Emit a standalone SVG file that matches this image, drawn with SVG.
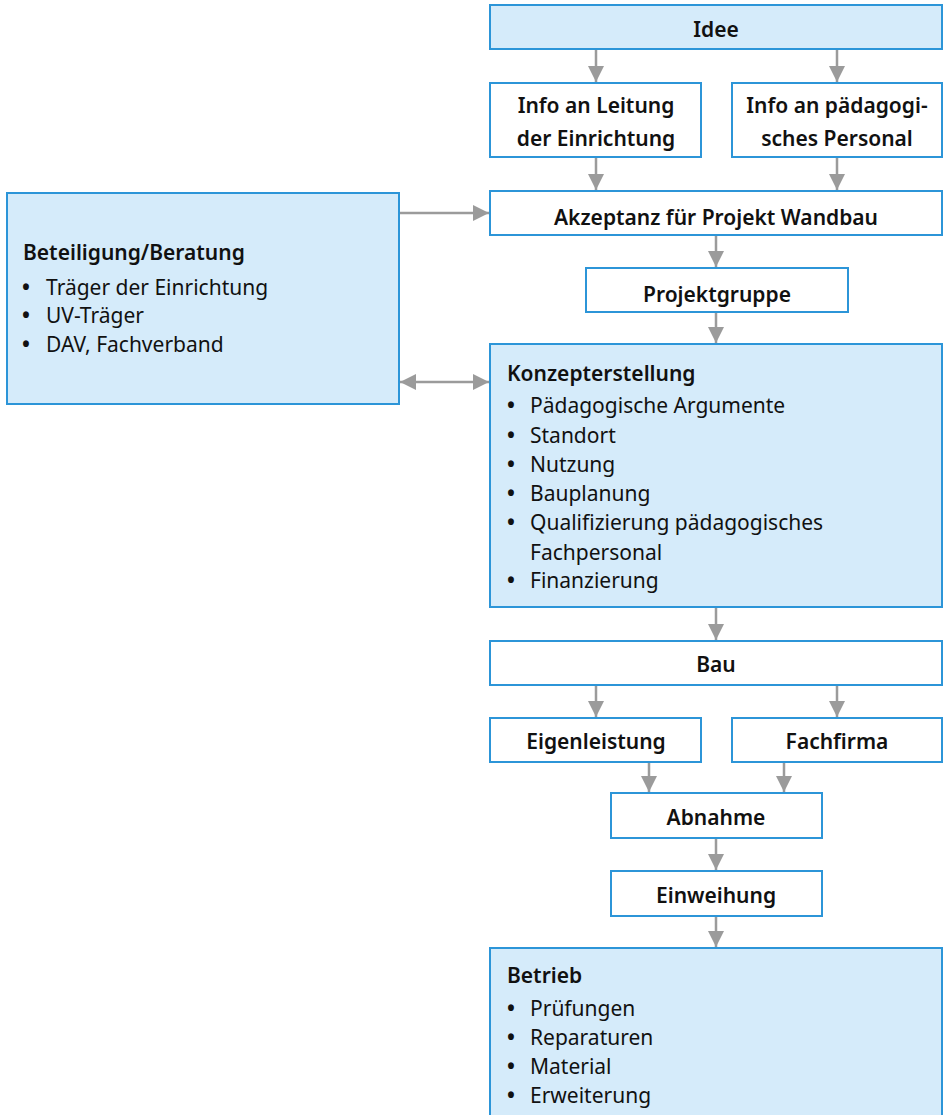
<svg xmlns="http://www.w3.org/2000/svg" width="945" height="1115" viewBox="0 0 945 1115">
<defs>
<marker id="ah" viewBox="0 0 16 16" refX="16" refY="8" markerWidth="16" markerHeight="16" markerUnits="userSpaceOnUse" orient="auto-start-reverse">
<path d="M0,0 L16,8 L0,16 Z" fill="#9b9b9b"/>
</marker>
<style>
.box{fill:#fff;stroke:#2c95d8;stroke-width:2}
.fbox{fill:#d5ebfa;stroke:#2c95d8;stroke-width:2}
.t{font-family:"Noto Sans","Open Sans",sans-serif;font-size:21px;font-weight:600;fill:#111}
.tc{text-anchor:middle}
.r{font-family:"Noto Sans","Open Sans",sans-serif;font-size:21px;font-weight:400;fill:#111}
.b{font-weight:700}
.c{stroke:#9b9b9b;stroke-width:2.5;fill:none;marker-end:url(#ah)}
</style>
</defs>
<g id="connectors">
<line class="c" x1="596" y1="49" x2="596" y2="82"/>
<line class="c" x1="837" y1="49" x2="837" y2="82"/>
<line class="c" x1="596" y1="157" x2="596" y2="190"/>
<line class="c" x1="837" y1="157" x2="837" y2="190"/>
<line class="c" x1="399" y1="213" x2="489" y2="213"/>
<line class="c" x1="716" y1="235" x2="716" y2="267"/>
<line class="c" x1="716" y1="312" x2="716" y2="343"/>
<line class="c" x1="400" y1="382" x2="489" y2="382" marker-start="url(#ah)"/>
<line class="c" x1="716" y1="607" x2="716" y2="640"/>
<line class="c" x1="596" y1="685" x2="596" y2="717"/>
<line class="c" x1="837" y1="685" x2="837" y2="717"/>
<line class="c" x1="649" y1="762" x2="649" y2="792"/>
<line class="c" x1="784" y1="762" x2="784" y2="792"/>
<line class="c" x1="716" y1="838" x2="716" y2="870"/>
<line class="c" x1="716" y1="916" x2="716" y2="947"/>
</g>
<g id="idee"><rect class="fbox" x="490" y="5" width="452" height="44"/><text class="t tc" x="716" y="37">Idee</text></g>
<g id="info-leitung"><rect class="box" x="490" y="83" width="211" height="74"/><text class="t tc" x="596" y="113">Info an Leitung</text><text class="t tc" x="596" y="146">der Einrichtung</text></g>
<g id="info-personal"><rect class="box" x="732" y="83" width="210" height="74"/><text class="t tc" x="837" y="113">Info an pädagogi-</text><text class="t tc" x="837" y="146">sches Personal</text></g>
<g id="akzeptanz"><rect class="box" x="490" y="191" width="452" height="44"/><text class="t tc" x="716" y="225">Akzeptanz für Projekt Wandbau</text></g>
<g id="beteiligung"><rect class="fbox" x="7" y="193" width="392" height="211"/>
<text class="t" x="23" y="260">Beteiligung/Beratung</text>
<text class="r" x="22" y="295"><tspan class="b">•</tspan><tspan x="46">Träger der Einrichtung</tspan></text>
<text class="r" x="22" y="323"><tspan class="b">•</tspan><tspan x="46">UV-Träger</tspan></text>
<text class="r" x="22" y="352"><tspan class="b">•</tspan><tspan x="46">DAV, Fachverband</tspan></text>
</g>
<g id="projektgruppe"><rect class="box" x="586" y="268" width="262" height="44"/><text class="t tc" x="717" y="302">Projektgruppe</text></g>
<g id="konzepterstellung"><rect class="fbox" x="490" y="344" width="452" height="263"/>
<text class="t" x="507" y="381">Konzepterstellung</text>
<text class="r" x="507" y="413"><tspan class="b">•</tspan><tspan x="530">Pädagogische Argumente</tspan></text>
<text class="r" x="507" y="443"><tspan class="b">•</tspan><tspan x="530">Standort</tspan></text>
<text class="r" x="507" y="472"><tspan class="b">•</tspan><tspan x="530">Nutzung</tspan></text>
<text class="r" x="507" y="501"><tspan class="b">•</tspan><tspan x="530">Bauplanung</tspan></text>
<text class="r" x="507" y="530"><tspan class="b">•</tspan><tspan x="530">Qualifizierung pädagogisches</tspan></text>
<text class="r" x="530" y="560">Fachpersonal</text>
<text class="r" x="507" y="588"><tspan class="b">•</tspan><tspan x="530">Finanzierung</tspan></text>
</g>
<g id="bau"><rect class="box" x="490" y="641" width="452" height="44"/><text class="t tc" x="716" y="672">Bau</text></g>
<g id="eigenleistung"><rect class="box" x="490" y="718" width="211" height="44"/><text class="t tc" x="596" y="749">Eigenleistung</text></g>
<g id="fachfirma"><rect class="box" x="732" y="718" width="210" height="44"/><text class="t tc" x="837" y="749">Fachfirma</text></g>
<g id="abnahme"><rect class="box" x="611" y="793" width="211" height="45"/><text class="t tc" x="716" y="825">Abnahme</text></g>
<g id="einweihung"><rect class="box" x="611" y="871" width="211" height="45"/><text class="t tc" x="716" y="903">Einweihung</text></g>
<g id="betrieb"><rect class="fbox" x="490" y="948" width="452" height="170"/>
<text class="t" x="507" y="983">Betrieb</text>
<text class="r" x="507" y="1016"><tspan class="b">•</tspan><tspan x="530">Prüfungen</tspan></text>
<text class="r" x="507" y="1045"><tspan class="b">•</tspan><tspan x="530">Reparaturen</tspan></text>
<text class="r" x="507" y="1074"><tspan class="b">•</tspan><tspan x="530">Material</tspan></text>
<text class="r" x="507" y="1103"><tspan class="b">•</tspan><tspan x="530">Erweiterung</tspan></text>
</g>
</svg>
